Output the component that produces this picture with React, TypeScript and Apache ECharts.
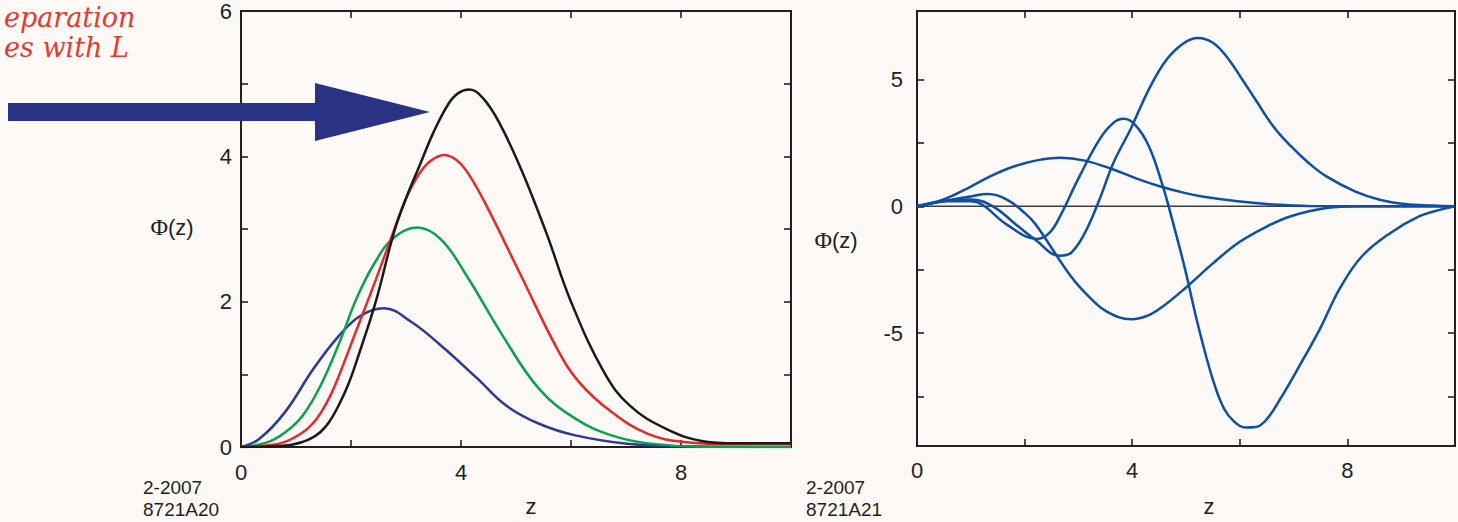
import React, { useEffect, useRef } from "react";
import * as echarts from "echarts";

// ---- Left panel: Φ(z) for increasing L ----
const leftBlue: number[][] = [
  [0, 0], [0.33, 0.11], [0.8, 0.48], [1.32, 1.08], [1.78, 1.53], [2.18, 1.81], [2.6, 1.91],
  [3.1, 1.72], [3.63, 1.4], [4.3, 0.94], [4.82, 0.57], [5.42, 0.32], [6.08, 0.16], [7.07, 0.04],
  [8, 0.01], [10, 0],
];
const leftGreen: number[][] = [
  [0, 0], [0.46, 0.06], [0.8, 0.2], [1.12, 0.43], [1.45, 0.85], [1.78, 1.42], [2.11, 2.06],
  [2.45, 2.56], [2.78, 2.88], [3.2, 3.02], [3.63, 2.86], [4.1, 2.36], [4.76, 1.53], [5.42, 0.8],
  [6.08, 0.39], [6.74, 0.16], [7.4, 0.05], [8.5, 0.0], [10, 0],
];
const leftRed: number[][] = [
  [0, 0], [0.46, 0.02], [0.8, 0.07], [1.12, 0.2], [1.3, 0.32], [1.45, 0.47], [1.62, 0.7],
  [1.78, 0.98], [2.11, 1.63], [2.45, 2.3], [2.78, 2.98], [3.0, 3.42], [3.24, 3.76], [3.45, 3.94],
  [3.69, 4.02], [3.9, 3.96], [4.1, 3.8], [4.43, 3.37], [5.09, 2.36], [5.75, 1.35], [6.15, 0.89],
  [6.74, 0.48], [7.4, 0.18], [8.06, 0.07], [9, 0.04], [10, 0.04],
];
const leftBlack: number[][] = [
  [0, 0], [0.8, 0.02], [1.12, 0.07], [1.3, 0.13], [1.45, 0.21], [1.6, 0.34], [1.78, 0.58],
  [1.95, 0.86], [2.11, 1.2], [2.45, 2.0], [2.78, 2.95], [3.0, 3.42], [3.24, 3.86], [3.5, 4.33],
  [3.77, 4.72], [3.95, 4.87], [4.15, 4.92], [4.4, 4.8], [4.69, 4.47], [5.09, 3.83], [5.55, 2.95],
  [6.0, 2.0], [6.6, 1.03], [7.07, 0.57], [7.73, 0.25], [8.4, 0.08], [9, 0.05], [10, 0.05],
];

// ---- Right panel: four excited Φ(z) ----
const rightA: number[][] = [
  [0, 0], [0.48, 0.26], [1.01, 0.79], [1.34, 1.16], [1.67, 1.47], [2.0, 1.7], [2.3, 1.84],
  [2.66, 1.91], [3.12, 1.8], [3.65, 1.45], [4.05, 1.12], [4.51, 0.79], [4.97, 0.53], [5.3, 0.39],
  [5.96, 0.2], [6.62, 0.07], [7.28, 0.01], [10, 0],
];
const rightB: number[][] = [
  [0, 0], [0.48, 0.2], [1.0, 0.39], [1.31, 0.49], [1.67, 0.26], [2.0, -0.26], [2.2, -0.7],
  [2.86, -2.76], [3.19, -3.55], [3.52, -4.14], [3.98, -4.45], [4.3, -4.3], [4.6, -3.9],
  [5.0, -3.2], [5.5, -2.25], [6.0, -1.4], [6.5, -0.8], [6.95, -0.39], [7.61, -0.07], [8.2, 0],
  [10, 0],
];
const rightC: number[][] = [
  [0, 0], [0.55, 0.2], [1.0, 0.2], [1.21, 0.07], [1.67, -0.72], [2.23, -1.29], [2.46, -1.05],
  [2.66, -0.39], [2.99, 1.05], [3.39, 2.63], [3.65, 3.29], [3.84, 3.45], [4.05, 3.22],
  [4.31, 2.37], [4.57, 0.79], [4.71, -0.26], [4.97, -2.37], [5.23, -4.74], [5.5, -6.84],
  [5.7, -7.95], [5.9, -8.5], [6.1, -8.72], [6.3, -8.7], [6.5, -8.4], [6.75, -7.6], [7.08, -6.4],
  [7.48, -4.87], [7.87, -3.2], [8.27, -1.97], [8.8, -1.05], [9.34, -0.39], [9.73, -0.13],
  [10, 0],
];
const rightD: number[][] = [
  [0, 0], [0.55, 0.22], [1.0, 0.27], [1.41, 0], [1.88, -0.79], [2.2, -1.32], [2.65, -1.95],
  [2.86, -1.84], [3.12, -1.05], [3.39, 0.26], [3.65, 1.71], [3.98, 3.09], [4.31, 4.61],
  [4.64, 5.79], [4.97, 6.45], [5.22, 6.64], [5.5, 6.45], [5.77, 5.86], [6.03, 5.05], [6.29, 4.21],
  [6.62, 3.16], [6.95, 2.37], [7.28, 1.71], [7.61, 1.18], [8.14, 0.59], [8.6, 0.26],
  [9.07, 0.09], [9.6, 0.03], [10, 0],
];
const zeroLine: number[][] = [[0, 0], [10, 0]];

const xLabelValues = [0, 4, 8];
const leftYLabelValues = [0, 2, 4, 6];
const rightYTickValues = [-7.5, -5, -2.5, 0, 2.5, 5];
const rightYLabelValues = [-5, 0, 5];

const INK = "#231f20";
const BG = "#fcf9f6";
const SANS = "Liberation Sans, Arial, sans-serif";

export default function App() {
  const ref = useRef<HTMLDivElement>(null);

  useEffect(() => {
    if (!ref.current) return;
    const chart = echarts.init(ref.current, null, { renderer: "svg" });

    const tick = { show: true, inside: true, length: 7, lineStyle: { color: INK, width: 1.6 } };
    const noLine = { show: false, onZero: false };
    const labelStyle = { fontSize: 22, color: INK, fontFamily: SANS };

    const xAxisFor = (grid: number, pos: "top" | "bottom", labels: boolean, margin: number) => ({
      type: "value",
      gridIndex: grid,
      position: pos,
      min: 0,
      max: 10,
      interval: 2,
      axisLine: noLine,
      axisTick: tick,
      splitLine: { show: false },
      axisLabel: labels
        ? {
            ...labelStyle,
            margin,
            formatter: (v: number) => (xLabelValues.includes(v) ? String(v) : ""),
          }
        : { show: false },
    });

    const line = (data: number[][], color: string, xi: number, yi: number, width = 2.5) => ({
      type: "line",
      data,
      xAxisIndex: xi,
      yAxisIndex: yi,
      showSymbol: false,
      symbol: "none",
      smooth: 0.4,
      lineStyle: { color, width },
      silent: true,
      z: 3,
    });

    const curveBlue = "#0d4fa6";
    const phiRich = {
      p: { fontFamily: "Liberation Serif", fontSize: 24, fill: INK },
      s: { fontFamily: SANS, fontSize: 22, fill: INK },
    };

    chart.setOption({
      animation: false,
      backgroundColor: BG,
      grid: [
        {
          left: 241, top: 7, width: 550, height: 440, show: true,
          borderColor: INK, borderWidth: 2, backgroundColor: "transparent",
        },
        {
          left: 917, top: 11, width: 539, height: 435, show: true,
          borderColor: INK, borderWidth: 2, backgroundColor: "transparent",
        },
      ],
      xAxis: [
        xAxisFor(0, "bottom", true, 14),
        xAxisFor(0, "top", false, 0),
        xAxisFor(1, "bottom", true, 13),
        xAxisFor(1, "top", false, 0),
      ],
      yAxis: [
        {
          type: "value", gridIndex: 0, position: "left", min: 0, max: 6, interval: 1,
          axisLine: noLine, axisTick: tick, splitLine: { show: false },
          axisLabel: {
            ...labelStyle, margin: 9, padding: [7, 0, 0, 0],
            formatter: (v: number) => (leftYLabelValues.includes(v) ? String(v) : ""),
          },
        },
        {
          type: "value", gridIndex: 0, position: "right", min: 0, max: 6, interval: 1,
          axisLine: noLine, axisTick: tick, splitLine: { show: false }, axisLabel: { show: false },
        },
        {
          type: "value", gridIndex: 1, position: "left", min: -9.45, max: 7.7,
          axisLine: noLine,
          axisTick: { ...tick, customValues: rightYTickValues },
          splitLine: { show: false },
          axisLabel: {
            ...labelStyle, margin: 14, padding: [7, 0, 0, 0],
            customValues: rightYLabelValues,
            formatter: (v: number) => String(v),
          },
        },
        {
          type: "value", gridIndex: 1, position: "right", min: -9.45, max: 7.7,
          axisLine: noLine,
          axisTick: { ...tick, customValues: rightYTickValues },
          splitLine: { show: false }, axisLabel: { show: false },
        },
      ],
      series: [
        line(leftBlue, "#2b3a98", 0, 0),
        line(leftGreen, "#0aa24b", 0, 0),
        line(leftRed, "#e8282a", 0, 0),
        line(leftBlack, "#1a1a1a", 0, 0),
        { ...line(zeroLine, "#3d3d3d", 2, 2, 1.5), smooth: false, z: 2 },
        line(rightA, curveBlue, 2, 2),
        line(rightB, curveBlue, 2, 2),
        line(rightC, curveBlue, 2, 2),
        line(rightD, curveBlue, 2, 2),
      ],
      graphic: [
        {
          type: "polygon",
          shape: {
            points: [[8, 103], [315, 103], [315, 83], [430, 112], [315, 141], [315, 121], [8, 121]],
          },
          style: { fill: "#2b3384" },
          z: 10,
        },
        {
          type: "text", x: 4, y: 17,
          style: {
            text: "eparation", fill: "#e8392f", font: "italic 27px 'DejaVu Serif'",
            textAlign: "left", textVerticalAlign: "middle",
          },
        },
        {
          type: "text", x: 4, y: 47,
          style: {
            text: "es with L", fill: "#e8392f", font: "italic 27px 'DejaVu Serif'",
            textAlign: "left", textVerticalAlign: "middle",
          },
        },
        {
          type: "text", x: 172, y: 227,
          style: { text: "{p|Φ}{s|(z)}", textAlign: "center", textVerticalAlign: "middle", rich: phiRich },
        },
        {
          type: "text", x: 836, y: 240,
          style: { text: "{p|Φ}{s|(z)}", textAlign: "center", textVerticalAlign: "middle", rich: phiRich },
        },
        {
          type: "text", x: 531, y: 506,
          style: { text: "z", fill: INK, font: `22px ${SANS}`, textAlign: "center", textVerticalAlign: "middle" },
        },
        {
          type: "text", x: 1209, y: 506,
          style: { text: "z", fill: INK, font: `22px ${SANS}`, textAlign: "center", textVerticalAlign: "middle" },
        },
        {
          type: "text", x: 143, y: 476,
          style: { text: "2-2007\n8721A20", fill: INK, font: `19px ${SANS}`, lineHeight: 22, textAlign: "left", textVerticalAlign: "top" },
        },
        {
          type: "text", x: 806, y: 476,
          style: { text: "2-2007\n8721A21", fill: INK, font: `19px ${SANS}`, lineHeight: 22, textAlign: "left", textVerticalAlign: "top" },
        },
      ],
    });

    return () => chart.dispose();
  }, []);

  return (
    <div
      ref={ref}
      style={{ position: "absolute", left: 0, top: 0, width: 1458, height: 522 }}
    />
  );
}
